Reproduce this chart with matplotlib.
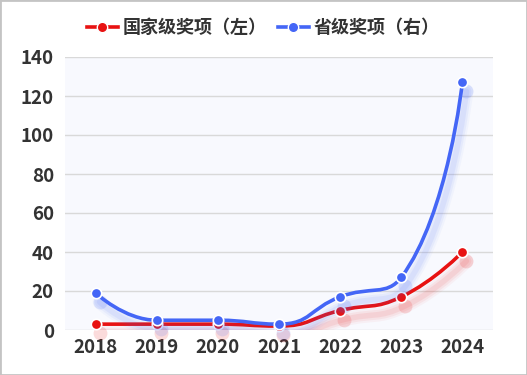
import numpy as np
import matplotlib
matplotlib.use("Agg")
import matplotlib.pyplot as plt
from matplotlib.path import Path
from matplotlib.patches import PathPatch, Rectangle
from matplotlib.lines import Line2D
from matplotlib import transforms

plt.rcParams['font.family'] = ['Noto Sans CJK SC', 'DejaVu Sans']

years = ["2018", "2019", "2020", "2021", "2022", "2023", "2024"]
national = [3, 3, 3, 2, 10, 17, 40]     # 国家级奖项（左）
provincial = [19, 5, 5, 3, 17, 27, 127]  # 省级奖项（右）

RED = "#e81212"
BLUE = "#4466f6"

fig = plt.figure(figsize=(5.27, 3.75), dpi=100)
ax = fig.add_axes([65 / 527, 1 - 330 / 375, 428 / 527, 273 / 375])
ax.set_facecolor("#f8f9fe")
ax.set_xlim(-0.5, len(years) - 0.5)
ax.set_ylim(0, 140)
ax.set_yticks(range(0, 141, 20))
ax.set_xticks(range(len(years)))
ax.set_xticklabels(years)
for s in ax.spines.values():
    s.set_visible(False)
ax.tick_params(length=0, labelsize=13.5, labelcolor="#333333", pad=8)
ax.tick_params(axis="x", pad=6)
for lab in ax.get_xticklabels() + ax.get_yticklabels():
    lab.set_fontweight("bold")
ax.grid(axis="y", color="#d9d9d9", lw=1)
ax.set_axisbelow(True)


def clamp(v, a, b):
    return min(max(v, min(a, b)), max(a, b))


def smooth_path(xs, ys, smooth=0.5):
    # same idea as echarts' smooth line: clamped bezier control points, pixel space
    pts = ax.transData.transform(np.column_stack([xs, ys]))
    n = len(pts)
    verts = [pts[0]]
    codes = [Path.MOVETO]
    cp0 = pts[0].copy()
    for i in range(1, n):
        x, y = pts[i]
        if i == n - 1:
            cp1 = np.array([x, y])
            nxt_cp0 = cp1
        else:
            px, py = pts[i - 1]
            nx, ny = pts[i + 1]
            vx, vy = nx - px, ny - py
            lp = np.hypot(x - px, y - py)
            ln = np.hypot(nx - x, ny - y)
            r = ln / (ln + lp)
            ncx = clamp(x + vx * smooth * r, nx, x)
            ncy = clamp(y + vy * smooth * r, ny, y)
            vx, vy = ncx - x, ncy - y
            c1x = clamp(x - vx * lp / ln, px, x)
            c1y = clamp(y - vy * lp / ln, py, y)
            vx, vy = x - c1x, y - c1y
            cp1 = np.array([c1x, c1y])
            nxt_cp0 = np.array([x + vx * ln / lp, y + vy * ln / lp])
        verts += [cp0, cp1, pts[i]]
        codes += [Path.CURVE4] * 3
        cp0 = nxt_cp0
    verts = ax.transData.inverted().transform(np.array(verts))
    return Path(verts, codes)


shadow_tr = transforms.offset_copy(ax.transData, fig, x=4, y=-9, units="dots")
x = np.arange(len(years))
for i, (vals, col) in enumerate([(national, RED), (provincial, BLUE)]):
    z = 3 + i * 3
    path = smooth_path(x, vals)
    for lw, a in [(10, 0.04), (7, 0.06), (4, 0.08)]:
        ax.add_patch(PathPatch(path, fill=False, edgecolor=col, lw=lw, alpha=a,
                               transform=shadow_tr, zorder=z, capstyle="round"))
    ax.plot(x, vals, "o", color=col, ms=10, alpha=0.15, mec="none",
            transform=shadow_tr, zorder=z, clip_on=False)
    ax.add_patch(PathPatch(path, fill=False, edgecolor=col, lw=2.6, zorder=z + 1,
                           capstyle="round", joinstyle="round"))
    ax.plot(x, vals, "o", color=col, ms=7.5, mec="white", mew=1.2, zorder=z + 2,
            clip_on=False)

handles = [Line2D([], [], color=RED, lw=2.6, marker="o", ms=7.5, mec="white", mew=1),
           Line2D([], [], color=BLUE, lw=2.6, marker="o", ms=7.5, mec="white", mew=1)]
leg = fig.legend(handles, ["国家级奖项（左）", "省级奖项（右）"], loc="upper center",
                 bbox_to_anchor=(0.5, 0.995), ncol=2, frameon=False,
                 prop={"size": 13, "weight": "bold"}, handlelength=1.7,
                 handletextpad=0.3, columnspacing=0.6)
for t in leg.get_texts():
    t.set_color("#333333")

fig.patches.append(Rectangle((0, 0), 1, 1, transform=fig.transFigure, fill=False,
                             edgecolor="#c4c4c4", lw=2))

fig.savefig("out.png", dpi=100)
